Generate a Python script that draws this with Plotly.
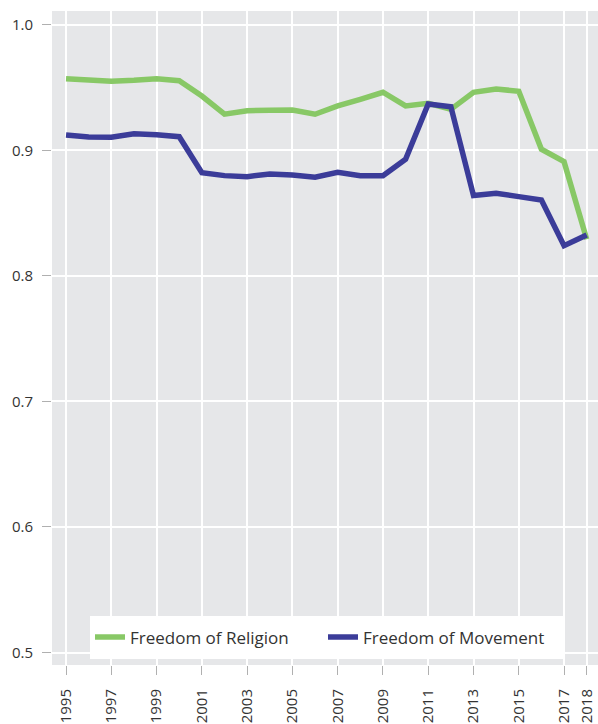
import plotly.graph_objects as go

years = list(range(1995, 2019))

freedom_of_religion = [
    0.957, 0.9565, 0.955, 0.9557, 0.957, 0.9554, 0.9432, 0.9287, 0.9315, 0.9318,
    0.932, 0.9287, 0.9353, 0.9406, 0.9462, 0.9353, 0.9374, 0.9326, 0.9462, 0.9488,
    0.947, 0.9008, 0.8909, 0.8291,
]

freedom_of_movement = [
    0.9122, 0.9106, 0.9103, 0.9132, 0.9124, 0.9108, 0.8822, 0.8798, 0.879, 0.8811,
    0.8803, 0.8785, 0.8825, 0.8798, 0.8798, 0.8928, 0.9369, 0.9347, 0.8639, 0.8658,
    0.8631, 0.8604, 0.824, 0.8326,
]

x_ticks = [1995, 1997, 1999, 2001, 2003, 2005, 2007, 2009, 2011, 2013, 2015, 2017, 2018]
y_ticks = [0.5, 0.6, 0.7, 0.8, 0.9, 1.0]

GREEN = "#88c866"
BLUE = "#3b3c99"
PANEL = "#e6e7e9"
FONT = "Open Sans"

fig = go.Figure()
fig.add_trace(go.Scatter(
    x=years, y=freedom_of_religion, mode="lines", name="Freedom of Religion",
    line=dict(color=GREEN, width=5.5),
))
fig.add_trace(go.Scatter(
    x=years, y=freedom_of_movement, mode="lines", name="Freedom of Movement",
    line=dict(color=BLUE, width=5.5),
))

# white box behind the legend, covering the grid
fig.add_shape(
    type="rect", xref="paper", yref="paper",
    x0=(90 - 52) / 546, x1=(563 - 52) / 546,
    y0=(665 - 659) / 654, y1=(665 - 616) / 654,
    fillcolor="white", line=dict(width=0), layer="between",
)

fig.update_layout(
    width=598, height=724,
    margin=dict(l=52, r=0, t=11, b=59),
    paper_bgcolor="white",
    plot_bgcolor=PANEL,
    font=dict(family=FONT, size=15, color="#333333"),
    showlegend=True,
    legend=dict(
        orientation="h", x=(90 - 52) / 546, y=(665 - 637.5) / 654,
        xanchor="left", yanchor="middle",
        bgcolor="rgba(0,0,0,0)", font=dict(family=FONT, size=17, color="#333333"),
        entrywidth=188, entrywidthmode="pixels",
    ),
)

fig.update_xaxes(
    range=[1994.38, 2018.5],
    tickmode="array", tickvals=x_ticks, ticktext=[str(t) for t in x_ticks],
    tickangle=-90,
    showgrid=True, gridcolor="white", gridwidth=1.5,
    zeroline=False, showline=False,
    ticks="outside", ticklen=9, tickwidth=1.2, tickcolor="#b0b0b0",
    ticklabelstandoff=8,
    tickfont=dict(family=FONT, size=15, color="#333333"),
)
fig.update_yaxes(
    range=[0.4901, 1.0109],
    tickmode="array", tickvals=y_ticks, ticktext=["0.5", "0.6", "0.7", "0.8", "0.9", "1.0"],
    showgrid=True, gridcolor="white", gridwidth=1.5,
    zeroline=False, showline=False,
    ticks="outside", ticklen=9, tickwidth=1.2, tickcolor="#b0b0b0",
    ticklabelstandoff=6,
    tickfont=dict(family=FONT, size=15, color="#333333"),
)

fig.write_html("out.html")
